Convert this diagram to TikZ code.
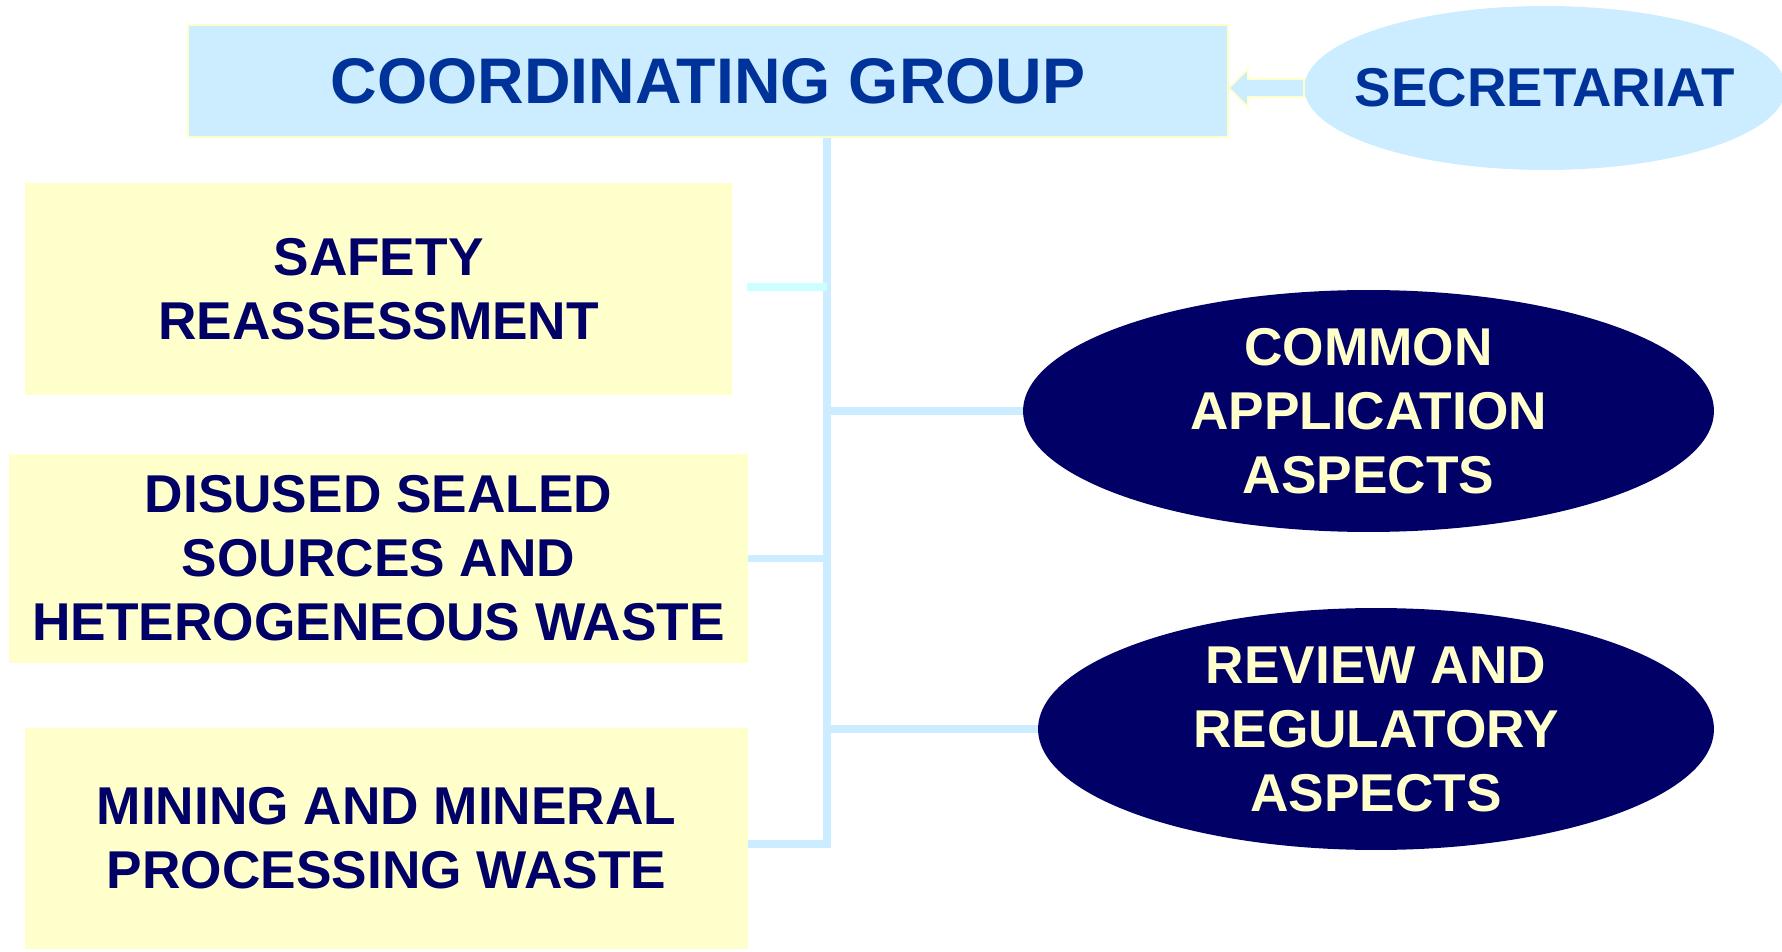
\documentclass[tikz,border=0pt]{standalone}
\usepackage{fontspec}
\setmainfont{Liberation Sans}
\usetikzlibrary{shapes.geometric,calc}
\definecolor{paleblue}{HTML}{CCECFF}
\definecolor{paleyellow}{HTML}{FFFFCC}
\definecolor{palecyan}{HTML}{CCFFFF}
\definecolor{navy}{HTML}{000066}
\definecolor{royal}{HTML}{003399}
\begin{document}
\begin{tikzpicture}[x=0.02cm,y=-0.02cm,
    groupbox/.style={rectangle,fill=paleyellow,text=navy,inner sep=0pt,align=center,
      font=\bfseries\fontsize{30.3}{36.4}\selectfont},
    groupoval/.style={ellipse,fill=navy,text=paleyellow,inner sep=0pt,align=center,
      minimum height=4.84cm,font=\bfseries\fontsize{30.3}{36.4}\selectfont},
    linkline/.style={paleblue,line width=4.5pt}]
    \useasboundingbox (0,0) rectangle (1782,952);
    %
    \node[rectangle,fill=paleblue,draw=paleyellow,line width=1pt,text=royal,
      minimum width=20.8cm,minimum height=2.24cm,
      font=\bfseries\fontsize{36.7}{44}\selectfont] (coord) at (708,81) {COORDINATING GROUP};
    \node[ellipse,fill=paleblue,text=royal,inner xsep=-0.4cm,
      minimum width=9.56cm,minimum height=3.28cm,
      font=\bfseries\fontsize{31.1}{37}\selectfont] (sec) at (1545,88) {SECRETARIAT};
    %
    \node[groupbox,minimum width=14.14cm,minimum height=4.24cm] (safety) at (378.5,289)
      {SAFETY\\REASSESSMENT};
    \node[groupbox,minimum width=14.78cm,minimum height=4.18cm] (disused) at (378.5,558.5)
      {DISUSED SEALED\\SOURCES AND\\HETEROGENEOUS WASTE};
    \node[groupbox,minimum width=14.46cm,minimum height=4.42cm] (mining) at (386.5,838.5)
      {MINING AND MINERAL\\PROCESSING WASTE};
    %
    \node[groupoval,minimum width=13.82cm] (common) at (1368.5,411)
      {COMMON\\APPLICATION\\ASPECTS};
    \node[groupoval,minimum width=13.52cm] (review) at (1376,729)
      {REVIEW AND\\REGULATORY\\ASPECTS};
    %
    \coordinate (tbot) at (827,844);
    \draw[linkline] (coord.south -| tbot) -- (tbot) -- (mining.east |- tbot);
    \draw[linkline,palecyan] ($(safety.east)+(15,-2)$) -- ($(safety.east -| tbot)+(0,-2)$);
    \draw[linkline] (disused.east) -- (disused.east -| tbot);
    \draw[linkline] (common.west -| tbot) -- (common.west);
    \draw[linkline] (review.west -| tbot) -- (review.west);
    %
    \coordinate (tip) at (coord.east |- sec.west);
    \filldraw[fill=paleblue,draw=paleyellow,line width=1pt]
      (tip) -- ++(19,19) -- ++(0,-10) -- ($(sec.west)+(0,9)$) -- ($(sec.west)+(0,-9)$)
      -- ($(tip)+(19,-9)$) -- ++(0,-10) -- cycle;
\end{tikzpicture}
\end{document}
